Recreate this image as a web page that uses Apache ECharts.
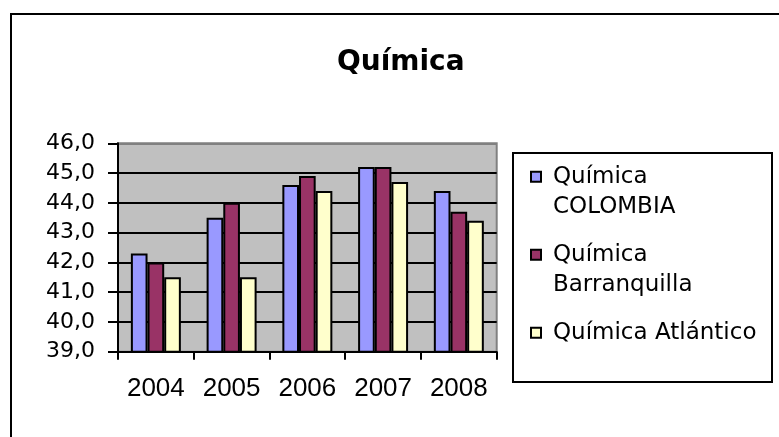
<!DOCTYPE html>
<html>
<head>
<meta charset="utf-8">
<script src="https://cdn.jsdelivr.net/npm/echarts@6/dist/echarts.min.js"></script>
<style>
  html, body { margin: 0; padding: 0; background: #fff; }
  #main { width: 779px; height: 437px; }
</style>
</head>
<body>
<div id="main"></div>
<script>
var years = ['2004', '2005', '2006', '2007', '2008'];
var colombia = [42.3, 43.5, 44.6, 45.2, 44.4];
var barranquilla = [42.0, 44.0, 44.9, 45.2, 43.7];
var atlantico = [41.5, 41.5, 44.4, 44.7, 43.4];

var seriesNames = ['Química COLOMBIA', 'Química Barranquilla', 'Química Atlántico'];
// leading blank line keeps the first text line level with the icon
var legendLabels = ['\nQuímica\nCOLOMBIA', '\nQuímica\nBarranquilla', 'Química Atlántico'];
var colors = ['#9999FF', '#993366', '#FFFFCC'];

var chart = echarts.init(document.getElementById('main'));

function makeBar(name, data, color) {
  return {
    name: name,
    type: 'bar',
    data: data,
    barGap: '0%',
    barCategoryGap: '34%',
    itemStyle: {
      color: color,
      borderColor: '#000',
      borderWidth: 2
    }
  };
}

var option = {
  backgroundColor: '#ffffff',
  animation: false,
  title: {
    text: 'Química',
    left: 332,
    top: 44,
    textStyle: {
      fontFamily: 'DejaVu Sans',
      fontSize: 28,
      fontWeight: 'bold',
      color: '#000'
    }
  },
  graphic: [{
    type: 'rect',
    shape: { x: 11, y: 14, width: 900, height: 600 },
    style: { fill: 'none', stroke: '#000', lineWidth: 2 }
  }, {
    type: 'rect',
    shape: { x: 513, y: 153, width: 259, height: 229 },
    style: { fill: '#fff', stroke: '#000', lineWidth: 2 },
    z: -1
  }],
  legend: {
    orient: 'vertical',
    left: 530,
    top: 131.7,
    padding: 0,
    itemWidth: 10,
    itemHeight: 10,
    itemGap: -12,
    icon: 'rect',
    formatter: function (name) {
      return legendLabels[seriesNames.indexOf(name)];
    },
    textStyle: {
      fontFamily: 'DejaVu Sans',
      fontSize: 23,
      lineHeight: 30,
      color: '#000',
      backgroundColor: 'rgba(0,0,0,0)',
      padding: [0, 0, 0, 7]
    },
    data: [
      { name: seriesNames[0] },
      { name: seriesNames[1] },
      { name: seriesNames[2], textStyle: { padding: [30, 0, 30, 7] } }
    ]
  },
  grid: {
    left: 118,
    top: 143.3,
    right: 282.3,
    bottom: 85.3,
    show: true,
    backgroundColor: '#C0C0C0',
    borderColor: '#808080',
    borderWidth: 2
  },
  xAxis: {
    type: 'category',
    data: years,
    axisLine: { lineStyle: { color: '#000', width: 2 } },
    axisTick: { show: true, length: 8, lineStyle: { color: '#000', width: 2 } },
    axisLabel: {
      margin: 24,
      fontFamily: 'Liberation Sans',
      fontSize: 26,
      color: '#000'
    }
  },
  yAxis: {
    type: 'value',
    min: 39,
    max: 46,
    interval: 1,
    axisLine: { show: true, lineStyle: { color: '#000', width: 2 } },
    axisTick: { show: true, length: 10, lineStyle: { color: '#000', width: 2 } },
    splitLine: {
      show: true,
      lineStyle: {
        color: ['#000', '#000', '#000', '#000', '#000', '#000', '#000', '#808080'],
        width: 2
      }
    },
    axisLabel: {
      margin: 23,
      fontFamily: 'DejaVu Sans',
      fontSize: 22,
      color: '#000',
      formatter: function (v) { return v.toFixed(1).replace('.', ','); }
    }
  },
  series: [
    makeBar(seriesNames[0], colombia, colors[0]),
    makeBar(seriesNames[1], barranquilla, colors[1]),
    makeBar(seriesNames[2], atlantico, colors[2])
  ]
};

chart.setOption(option);
</script>
</body>
</html>
